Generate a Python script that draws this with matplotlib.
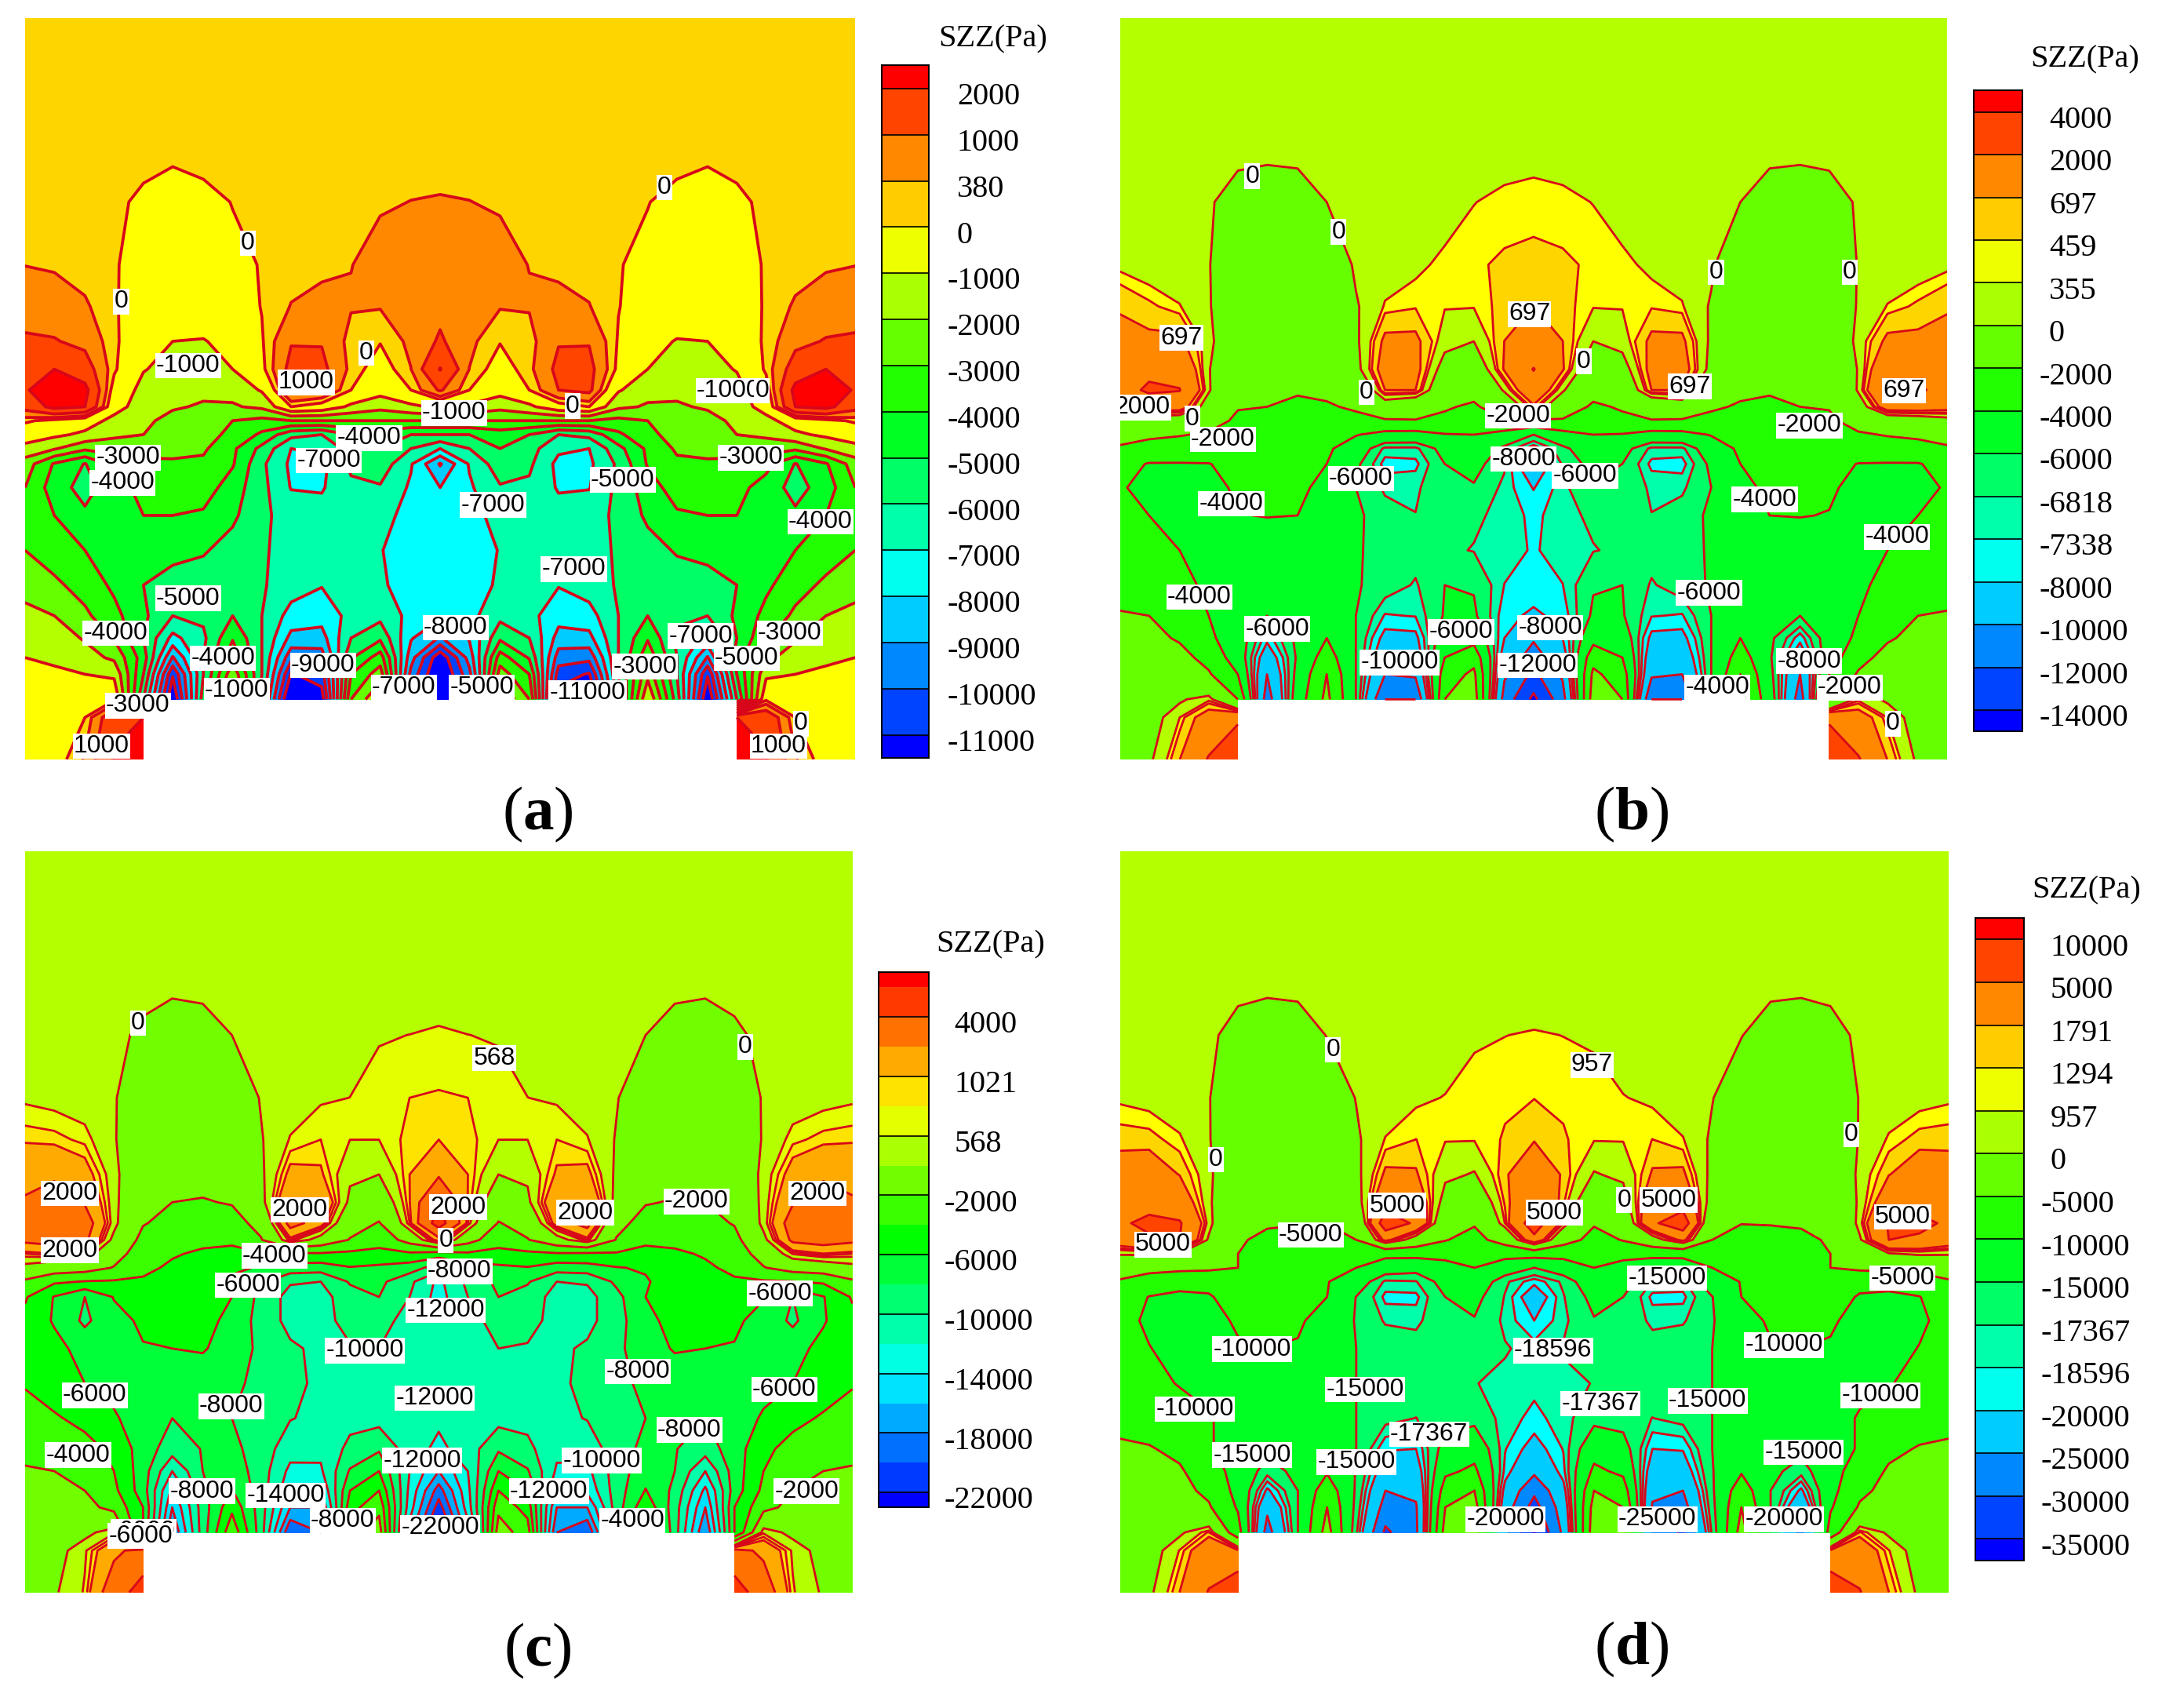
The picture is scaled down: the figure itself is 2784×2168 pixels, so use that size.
import colorsys

import numpy as np
import matplotlib
matplotlib.use("Agg")
import matplotlib.pyplot as plt

# Reference picture was read at 1568x1221, everything below is placed in that space
REF_W, REF_H = 1568, 1221
LINE_COLOR = "#d8061a"

# flood bands that come out a bit off the legend colour in the original
FLOOD_FIX_16 = {3: "#ffd500", 4: "#ffff00", 5: "#b4ff00", 11: "#00ffff"}
FLOOD_FIX_19 = {6: "#b4ff00"}

# mesh nodes of the left half, px from panel top left
x_half = [0, 21, 43, 64, 85, 106, 128, 149, 170, 191, 213, 234, 255, 277, 298]
y_nodes = [0, 105, 132, 177, 207, 232, 252, 267, 279, 289, 299, 309, 320, 337, 357, 382,
           407, 429, 445, 459, 471, 489, 502, 532]

levels_a = [2000, 1000, 380, 0, -1000, -2000, -3000, -4000, -5000, -6000, -7000, -8000, -9000, -10000, -11000]
levels_b = [4000, 2000, 697, 459, 355, 0, -2000, -4000, -6000, -6818, -7338, -8000, -10000, -12000, -14000]
levels_c = [6000, 4000, 2000, 1021, 800, 568, 0, -2000, -4000, -6000, -8000, -10000, -12000, -14000, -16000,
            -18000, -20000, -22000]
levels_d = [10000, 5000, 1791, 1294, 957, 0, -5000, -10000, -15000, -17367, -18596, -20000, -25000, -30000, -35000]

# SZZ in Pa on the left half, rows follow y_nodes down to the notch top
szz_a = [
    [200, 200, 200, 200, 200, 200, 200, 200, 200, 200, 200, 200, 200, 200, 200],
    [200, 200, 200, 200, 150, 20, 130, 200, 200, 200, 210, 220, 240, 280, 300],
    [220, 210, 200, 150, -150, -300, -200, 20, 200, 220, 260, 280, 340, 385, 400],
    [370, 330, 180, 40, -200, -350, -300, -150, 30, 200, 330, 370, 520, 600, 650],
    [700, 600, 450, 60, -350, -450, -400, -300, 20, 400, 450, 420, 410, 550, 800],
    [1100, 1050, 800, 100, -500, -1000, -1050, -700, -50, 950, 950, 200, 30, 500, 1100],
    [1350, 2000, 1400, 100, -950, -1300, -1400, -1000, -150, 1250, 1200, 250, -300, 370, 2050],
    [1900, 2600, 2300, -300, -1300, -1700, -1800, -1700, -900, 1200, 1000, 0, -600, 0, 1100],
    [1300, 2300, 2000, -600, -1500, -1900, -2100, -2100, -1800, 0, -300, -1200, -1700, -1200, -800],
    [100, -200, -500, -1300, -1800, -2300, -2700, -3000, -3300, -3000, -3000, -3000, -3000, -3000, -3000],
    [-500, -800, -1200, -1800, -2000, -2400, -2700, -3200, -4200, -5700, -6000, -5000, -4500, -5000, -5000],
    [-1300, -1900, -2800, -2600, -2500, -2600, -2850, -3800, -5300, -7000, -6800, -5600, -5000, -6000, -7000],
    [-2500, -4100, -5050, -3700, -3300, -3200, -3200, -3900, -5800, -7200, -7300, -5800, -5400, -6900, -9100],
    [-3000, -4500, -5400, -4400, -3700, -3300, -3500, -4500, -5700, -7050, -7100, -6200, -6100, -7150, -8000],
    [-3700, -4000, -4800, -4300, -4000, -4000, -4150, -4800, -5800, -6400, -6600, -6600, -6700, -7300, -7600],
    [-3000, -3500, -4000, -4500, -4600, -4700, -4900, -5400, -5900, -6300, -6500, -6700, -6950, -7500, -7700],
    [-2400, -2800, -3400, -4200, -5000, -5400, -5500, -5700, -5900, -6500, -6950, -6600, -6900, -7300, -7500],
    [-1700, -2000, -2800, -3700, -4800, -6000, -5800, -5000, -6000, -7400, -7600, -6700, -6300, -7300, -7800],
    [-1200, -1500, -2100, -3100, -5000, -7300, -6200, -4100, -6000, -8300, -8400, -6000, -5200, -7900, -9100],
    [-1000, -1100, -1600, -2200, -4500, -9100, -6000, -3300, -6000, -9700, -9500, -5100, -3500, -8600, -11800],
    [-850, -900, -1000, -1200, -5000, -10900, -6000, -2300, -6000, -11100, -10500, -4000, -2500, -9300, -12300],
    [-700, -700, -300, -100, -6000, -12000, -5500, -1000, -6500, -12500, -11500, -3000, -1000, -10300, -15000],
]
szz_b = [
    [200, 200, 200, 200, 200, 200, 200, 200, 200, 200, 200, 200, 200, 200, 200],
    [200, 200, 200, 200, 80, 10, 60, 200, 200, 200, 210, 230, 260, 300, 320],
    [150, 150, 150, 100, -400, -700, -500, 0, 150, 180, 200, 250, 350, 400, 420],
    [300, 220, 150, 40, -700, -900, -800, -500, 80, 200, 310, 400, 440, 480, 490],
    [640, 500, 370, 70, -800, -1000, -900, -600, -50, 380, 440, 370, 370, 520, 700],
    [900, 800, 800, 200, -900, -1000, -1100, -800, -100, 800, 800, 200, 0, 700, 1000],
    [1300, 1700, 1500, 50, -1050, -1200, -1300, -1100, -200, 1000, 900, -300, -600, 750, 2050],
    [1500, 2200, 2050, 100, -1600, -1800, -1900, -1700, -1000, 700, 700, -800, -1300, 100, 1400],
    [1000, 1200, 1200, -500, -1900, -2000, -2200, -2150, -1800, -500, -900, -1800, -2300, -800, 600],
    [-300, -600, -800, -1300, -2300, -2800, -3000, -3000, -2400, -2200, -2100, -2400, -2800, -2200, -2200],
    [-1400, -1700, -1900, -2200, -2700, -3200, -3400, -3600, -3900, -4600, -4700, -4100, -4000, -4700, -6000],
    [-2200, -2600, -2800, -2900, -3000, -3200, -3300, -3700, -5000, -7000, -7000, -5500, -5000, -6300, -7800],
    [-3400, -4100, -4100, -4050, -3500, -3400, -3500, -4000, -5700, -7600, -7500, -6000, -5600, -6700, -9500],
    [-3900, -4300, -4700, -4400, -3800, -3400, -3700, -4400, -6000, -6950, -6950, -6200, -6100, -7000, -8050],
    [-3500, -4000, -4500, -4400, -4050, -3950, -4000, -4700, -5800, -6500, -6800, -6500, -6700, -7000, -7500],
    [-3300, -3500, -4000, -4500, -4800, -4800, -5000, -5300, -5900, -6300, -6500, -6700, -6850, -7100, -7400],
    [-2500, -3000, -3700, -4200, -5000, -5200, -5300, -5400, -5900, -6400, -6900, -6000, -6100, -7350, -7500],
    [-1900, -2000, -3000, -4000, -5000, -6000, -5400, -5200, -6000, -7400, -7300, -5900, -5800, -7700, -8200],
    [-1300, -1500, -2200, -3600, -5200, -7700, -5700, -4000, -6000, -8400, -8300, -5000, -4700, -8000, -9800],
    [-900, -1000, -1400, -2600, -5000, -9000, -5800, -3000, -6000, -9200, -9000, -4000, -2700, -8800, -10800],
    [-700, -800, -1000, -1800, -4000, -10000, -5500, -2000, -6000, -10000, -9700, -3000, -1600, -9700, -12500],
    [-500, -400, -100, 300, -2000, -11000, -5000, -1500, -6000, -12000, -12000, -2000, -1000, -10800, -14500],
]
szz_c = [
    [300, 300, 300, 300, 300, 300, 300, 300, 300, 300, 300, 300, 300, 300, 300],
    [300, 300, 300, 300, 200, 20, 100, 300, 300, 300, 310, 330, 400, 450, 500],
    [300, 300, 300, 250, -200, -700, -500, 0, 200, 300, 350, 400, 550, 570, 590],
    [500, 420, 300, 100, -900, -1200, -1000, -600, 50, 300, 520, 570, 650, 800, 830],
    [950, 900, 720, 100, -1100, -1400, -1200, -800, -50, 600, 800, 570, 570, 900, 1021],
    [1700, 1750, 1300, 300, -1300, -1500, -1500, -1200, -150, 1200, 1100, 150, 0, 1021, 1800],
    [2100, 2800, 1900, 300, -1500, -2000, -2100, -1900, -300, 2000, 1900, -200, -900, 1000, 4000],
    [2700, 3200, 2700, 300, -1900, -2500, -2600, -2600, -1500, 2500, 1400, -1200, -2100, 800, 5000],
    [2300, 2600, 2300, -300, -2500, -3000, -3200, -3300, -2100, 800, -500, -2100, -3300, -1200, 1500],
    [800, 1000, 600, -1200, -3000, -3700, -4500, -5000, -4200, -4300, -4200, -4400, -4500, -4300, -4800],
    [-300, -800, -1100, -2100, -3300, -4500, -4800, -5800, -6100, -6800, -7000, -6100, -6400, -7000, -9000],
    [-2300, -3700, -4100, -4200, -4400, -4900, -5000, -6200, -7600, -9800, -10000, -7800, -7500, -9500, -12500],
    [-3800, -6100, -8000, -5900, -4500, -4600, -5000, -6000, -8600, -10700, -10800, -8800, -8000, -10000, -12800],
    [-4500, -6200, -8400, -6600, -5700, -5000, -5400, -6500, -8800, -10600, -10400, -9600, -9400, -10600, -12000],
    [-4300, -5400, -6700, -6800, -6100, -6000, -5800, -7000, -8400, -9700, -10400, -10100, -10000, -11000, -11500],
    [-4100, -4900, -6000, -6800, -7000, -7200, -7300, -7600, -8500, -9500, -10400, -10700, -11000, -11300, -11500],
    [-3500, -3800, -4500, -5700, -7300, -8000, -7500, -8000, -8800, -9900, -10500, -10600, -10700, -11200, -11600],
    [-2300, -2700, -3400, -4400, -7000, -9000, -7900, -7500, -8900, -11200, -11500, -9500, -8300, -11000, -12500],
    [-1900, -2000, -2700, -4000, -7000, -12000, -8000, -6800, -9000, -12500, -12300, -7800, -6000, -12000, -16000],
    [-1400, -1500, -2000, -3500, -7000, -14500, -8500, -5900, -9000, -13500, -14000, -6000, -4000, -12500, -19000],
    [-1100, -1200, -1500, -2500, -6000, -16000, -9000, -4500, -9000, -16000, -16000, -4800, -2500, -13000, -21000],
    [-800, -700, -300, 500, -6000, -18000, -9000, -2500, -9000, -20000, -18000, -3000, -1000, -15000, -24000],
]
szz_d = [
    [300, 300, 300, 300, 300, 300, 300, 300, 300, 300, 300, 300, 300, 300, 300],
    [300, 300, 300, 300, 150, 20, 100, 300, 300, 300, 320, 400, 500, 600, 700],
    [300, 300, 300, 250, -500, -1500, -800, 50, 250, 350, 450, 600, 900, 950, 1000],
    [850, 700, 450, 100, -2000, -2800, -2200, -1000, 50, 400, 850, 980, 1100, 1200, 1280],
    [1550, 1500, 1050, 150, -2500, -3000, -2700, -1800, -200, 1000, 1300, 1000, 1000, 1350, 1750],
    [2300, 2500, 1750, 500, -3000, -3400, -3300, -2600, -400, 2000, 1900, 300, -100, 1700, 2500],
    [2800, 3800, 3000, 400, -3500, -4000, -4200, -3700, -800, 3500, 3200, -700, -1800, 1400, 3800],
    [4500, 5800, 5300, 600, -4000, -4500, -4800, -4900, -3000, 7000, 4500, -2500, -4600, 1000, 7000],
    [3000, 4500, 5000, -300, -4500, -6000, -6300, -6500, -5000, 2500, -1500, -4800, -6500, -3000, 4000],
    [200, 300, -200, -2500, -5000, -7500, -7800, -7800, -8000, -8800, -8500, -7800, -9500, -8500, -8000],
    [-2500, -3000, -3500, -4000, -5000, -7800, -8300, -9000, -10000, -12500, -13500, -12500, -10000, -12500, -15000],
    [-5500, -8000, -9500, -9000, -7700, -8300, -8500, -9800, -12500, -17800, -17500, -13500, -12000, -17000, -19500],
    [-8000, -10100, -10300, -10300, -8500, -8600, -9000, -10000, -15100, -19000, -19000, -15000, -14000, -17500, -22000],
    [-9000, -10500, -10800, -11000, -9600, -9000, -9500, -11500, -15300, -17600, -17800, -15800, -15200, -17800, -20000],
    [-8500, -9900, -11000, -11300, -10300, -10000, -10300, -12000, -15000, -16000, -16500, -16000, -16300, -17200, -18000],
    [-8000, -9000, -10200, -11500, -12000, -12000, -12500, -13500, -15000, -15500, -16000, -16500, -17300, -17800, -18200],
    [-6000, -7000, -8500, -9500, -12500, -13000, -13300, -13500, -15000, -16700, -17400, -16300, -16000, -18000, -19000],
    [-4500, -4700, -6000, -9500, -12500, -14000, -13500, -13000, -15000, -19800, -20000, -13500, -12000, -18500, -21000],
    [-3500, -3800, -4500, -7500, -12000, -16500, -14000, -10500, -15200, -22000, -22000, -11000, -9000, -19000, -24000],
    [-2800, -3000, -3700, -6000, -11500, -20500, -15000, -7000, -15500, -25000, -24000, -7500, -5000, -21000, -29000],
    [-2200, -2500, -3000, -4500, -10500, -24000, -15000, -5000, -16000, -27000, -25500, -5000, -3000, -22500, -32000],
    [-1800, -1300, -300, 1400, -8000, -27000, -15000, -3000, -17000, -31000, -26000, -3000, -2000, -24000, -36000],
]

# the two rows under the notch top only exist left of the notch
corner_a = [[-600, -500, 0, 1700, 2000], [-500, -300, 450, 2100, 3000]]
corner_b = [[-450, -300, 350, 1000, 1800], [-400, -100, 680, 2100, 3000]]
corner_c = [[-700, -400, 500, 1700, 2500], [-600, -100, 620, 2900, 5000]]
corner_d = [[-1500, -800, 1000, 3000, 2000], [-1300, -300, 1800, 5200, 8000]]

labels_a = [("0", 178, 173), ("0", 87, 215), ("0", 477, 133), ("-1000", 135, 261), ("1000", 220, 273),
            ("0", 263, 252), ("-1000", 326, 295), ("0", 411, 290), ("-1000", 523, 279), ("0", 547, 279),
            ("-3000", 92, 327), ("-4000", 88, 345), ("-4000", 265, 313), ("-7000", 236, 329),
            ("-5000", 447, 343), ("-7000", 354, 361), ("-3000", 539, 327), ("-4000", 589, 373),
            ("-7000", 412, 407), ("-5000", 135, 428), ("-4000", 83, 453), ("-8000", 327, 449),
            ("-4000", 160, 471), ("-9000", 232, 476), ("-7000", 503, 455), ("-3000", 567, 453),
            ("-5000", 536, 471), ("-1000", 170, 494), ("-7000", 290, 492), ("-5000", 346, 492),
            ("-3000", 463, 477), ("-11000", 422, 496), ("-3000", 99, 505), ("0", 575, 518),
            ("1000", 73, 534), ("1000", 559, 534)]
labels_b = [("0", 899, 125), ("0", 961, 165), ("0", 1232, 194), ("0", 1328, 194), ("697", 848, 241),
            ("697", 1098, 224), ("0", 1137, 258), ("0", 981, 280), ("697", 1213, 276), ("697", 1367, 279),
            ("2000", 820, 291), ("0", 856, 299), ("-2000", 1090, 297), ("-2000", 878, 314),
            ("-2000", 1299, 304), ("-8000", 1094, 328), ("-6000", 1138, 340), ("-6000", 977, 342),
            ("-4000", 884, 360), ("-4000", 1267, 357), ("-4000", 1362, 384), ("-4000", 861, 427),
            ("-6000", 1227, 424), ("-6000", 917, 450), ("-6000", 1049, 452), ("-8000", 1113, 449),
            ("-10000", 1005, 474), ("-12000", 1104, 476), ("-8000", 1299, 473), ("-4000", 1233, 492),
            ("-2000", 1328, 492), ("0", 1359, 518)]
labels_c = [("0", 99, 733), ("0", 535, 750), ("568", 355, 758), ("2000", 50, 855), ("2000", 587, 855),
            ("2000", 215, 867), ("2000", 329, 865), ("2000", 420, 869), ("2000", 50, 896), ("0", 320, 889),
            ("-2000", 500, 861), ("-4000", 197, 900), ("-8000", 330, 911), ("-6000", 178, 921),
            ("-6000", 560, 927), ("-12000", 320, 939), ("-10000", 262, 968), ("-8000", 458, 983),
            ("-6000", 68, 1000), ("-8000", 166, 1008), ("-12000", 312, 1002), ("-6000", 563, 996),
            ("-8000", 495, 1025), ("-4000", 56, 1043), ("-12000", 303, 1047), ("-10000", 432, 1047),
            ("-8000", 145, 1069), ("-14000", 205, 1072), ("-12000", 394, 1069), ("-2000", 579, 1069),
            ("-8000", 246, 1090), ("-22000", 316, 1095), ("-4000", 454, 1090), ("-6000", 103, 1098),
            ("-6000", 101, 1101)]
labels_d = [("0", 957, 752), ("0", 873, 831), ("0", 1329, 813), ("957", 1143, 763), ("5000", 1003, 864),
            ("5000", 1116, 869), ("0", 1166, 860), ("5000", 1198, 860), ("5000", 835, 892),
            ("5000", 1366, 872), ("-5000", 941, 885), ("-5000", 1366, 916), ("-15000", 1197, 916),
            ("-10000", 899, 967), ("-10000", 1281, 964), ("-15000", 980, 996), ("-18596", 1115, 968),
            ("-17367", 1149, 1006), ("-15000", 1226, 1004), ("-10000", 858, 1010), ("-10000", 1350, 1000),
            ("-17367", 1026, 1028), ("-15000", 899, 1043), ("-15000", 974, 1048), ("-15000", 1295, 1041),
            ("-20000", 1081, 1089), ("-25000", 1190, 1089), ("-20000", 1281, 1089)]


def rainbow(n):
    """Small rainbow bands from red (top) to blue (bottom), same steps as the legend."""
    return [colorsys.hsv_to_rgb(i * (240.0 / 360.0) / (n - 1), 1.0, 1.0) for i in range(n)]


def ref_axes(fig, left, top, right, bottom):
    return fig.add_axes([left / REF_W, 1 - bottom / REF_H, (right - left) / REF_W, (bottom - top) / REF_H])


def draw_panel(fig, box, szz, corner, levels, labels, lw, flood_fix):
    ax = ref_axes(fig, *box)
    half = np.array(x_half, dtype=float)
    x = np.concatenate([half, 596 - half[-2::-1]])
    y = np.array(y_nodes, dtype=float)
    rows = np.full((len(y), len(half)), np.nan)
    rows[:len(szz)] = szz
    rows[len(szz):, :5] = corner
    z = np.hstack([rows, rows[:, -2::-1]])
    z = np.ma.masked_invalid(z)
    asc = sorted(levels)
    cols = rainbow(len(levels) + 1)
    for k, c in flood_fix.items():
        cols[k] = c
    cols = cols[::-1]
    # corner_mask off or the notch corners get chamfered
    ax.contourf(x, y, z, levels=asc, colors=cols, extend="both", antialiased=False, corner_mask=False)
    ax.contour(x, y, z, levels=asc, colors=LINE_COLOR, linewidths=lw, linestyles="solid", corner_mask=False)
    ax.set_xlim(0, 596)
    ax.set_ylim(532, 0)
    ax.axis("off")
    for text, lx, ly in labels:
        t = fig.text(lx / REF_W, 1 - (ly + 1.5) / REF_H, text, ha="center", va="center", fontsize=23,
                     family="Liberation Sans", color="black", zorder=5,
                     bbox=dict(boxstyle="square,pad=0.04", fc="white", ec="none"))
        t.set_clip_box(ax.bbox)
        t.set_clip_on(True)
    return ax


def draw_legend(fig, box, levels, step, title_xy):
    left, top, right, bottom = box
    ax = ref_axes(fig, *box)
    n = len(levels)
    cols = rainbow(n + 1)
    edges = [0.0] + [k + 0.5 for k in range(n)] + [float(n)]
    for k, c in enumerate(cols):
        ax.bar(0.5, edges[k + 1] - edges[k], bottom=edges[k], width=1.0, color=c, linewidth=0)
    ax.set_xlim(0, 1)
    ax.set_ylim(n, 0)
    ax.set_xticks([])
    ax.set_yticks([])
    for side in ax.spines.values():
        side.set_linewidth(1.4)
    unit = (bottom - top) / n
    # black separators only on the labelled levels
    for k in range(step - 1 if step > 1 else 0, n, step):
        ax.axhline(k + 0.5, color="black", linewidth=1.2)
        yy = top + (k + 0.5) * unit + 6
        xx = left + 47 if levels[k] < 0 else left + 54
        fig.text(xx / REF_W, 1 - yy / REF_H, str(levels[k]), ha="left", va="center", fontsize=29,
                 family="Liberation Serif")
    fig.text(title_xy[0] / REF_W, 1 - (title_xy[1] + 2) / REF_H, "SZZ(Pa)", ha="center", va="center", fontsize=29,
             family="Liberation Serif")


plt.rcParams["mathtext.fontset"] = "custom"
plt.rcParams["mathtext.rm"] = "Liberation Serif"
plt.rcParams["mathtext.bf"] = "Liberation Serif:bold"

fig = plt.figure(figsize=(27.84, 21.68), dpi=100, facecolor="white")

draw_panel(fig, (18, 13, 614, 545), szz_a, corner_a, levels_a, labels_a, 2.7, FLOOD_FIX_16)
draw_panel(fig, (804, 13, 1398, 545), szz_b, corner_b, levels_b, labels_b, 2.0, FLOOD_FIX_16)
draw_panel(fig, (18, 611, 612, 1143), szz_c, corner_c, levels_c, labels_c, 2.0, FLOOD_FIX_19)
draw_panel(fig, (804, 611, 1399, 1143), szz_d, corner_d, levels_d, labels_d, 2.0, FLOOD_FIX_16)

draw_legend(fig, (633, 47, 667, 544), levels_a, 1, (713, 26))
draw_legend(fig, (1417, 65, 1452, 525), levels_b, 1, (1497, 41))
draw_legend(fig, (631, 698, 667, 1082), levels_c, 2, (711, 676))
draw_legend(fig, (1418, 659, 1453, 1120), levels_d, 1, (1498, 637))

for letter, px, py in [("a", 386, 585), ("b", 1171, 585), ("c", 386, 1185), ("d", 1171, 1184)]:
    fig.text(px / REF_W, 1 - py / REF_H, r"($\mathbf{%s}$)" % letter, ha="center", va="center", fontsize=57,
             family="Liberation Serif")

fig.savefig("out.png", dpi=100, facecolor="white")
